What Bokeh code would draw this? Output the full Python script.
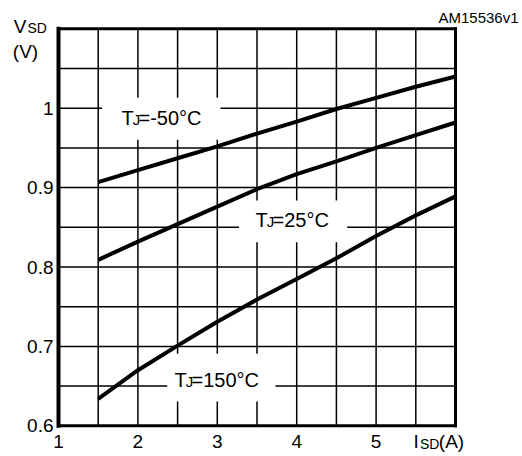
from bokeh.plotting import figure
from bokeh.models import Range1d
from bokeh.core.properties import value
from bokeh.embed import file_html
from bokeh.resources import INLINE

# ---- data ----
isd = [1.5, 2.0, 2.5, 3.0, 3.5, 4.0, 4.5, 5.0, 5.5, 6.0]
vsd_m50 = [0.907, 0.922, 0.937, 0.952, 0.968, 0.983, 0.999, 1.013, 1.027, 1.040]
vsd_25 = [0.809, 0.832, 0.854, 0.876, 0.898, 0.917, 0.933, 0.950, 0.966, 0.982]
vsd_150 = [0.634, 0.670, 0.701, 0.731, 0.759, 0.785, 0.811, 0.839, 0.865, 0.889]

x_ticks = [1, 2, 3, 4, 5]
x_tick_labels = ["1", "2", "3", "4", "5"]
y_ticks = [0.6, 0.7, 0.8, 0.9, 1.0]
y_tick_labels = ["0.6", "0.7", "0.8", "0.9", "1"]
x_grid = [1.5, 2.0, 2.5, 3.0, 3.5, 4.0, 4.5, 5.0, 5.5]
y_grid = [0.65, 0.7, 0.75, 0.8, 0.85, 0.9, 0.95, 1.0, 1.05]
series_names = ["=-50°C", "=25°C", "=150°C"]

# ---- layout: canvas pixels of the chart box ----
FONT = "Liberation Sans"
W, H = 522, 456
BOX_L, BOX_R, BOX_T, BOX_B = 58.0, 455.0, 28.3, 425.3
X0, X1, Y0, Y1 = 1.0, 6.0, 0.6, 1.1
SX = (BOX_R - BOX_L) / (X1 - X0)
SY = (BOX_B - BOX_T) / (Y1 - Y0)


def dx(px):
    return X0 + (px - BOX_L) / SX


def dy(py):
    return Y0 + (BOX_B - py) / SY


p = figure(width=W, height=H, min_border=0,
           x_range=Range1d(dx(0), dx(W)), y_range=Range1d(dy(H), dy(0)),
           output_backend="svg", toolbar_location=None)
p.axis.visible = False
p.grid.visible = False
p.outline_line_color = None
p.background_fill_color = "white"
p.border_fill_color = "white"

# grid lines
p.segment(x0=x_grid, x1=x_grid, y0=[Y0] * len(x_grid), y1=[Y1] * len(x_grid),
          line_color="black", line_width=1.5)
p.segment(x0=[X0] * len(y_grid), x1=[X1] * len(y_grid), y0=y_grid, y1=y_grid,
          line_color="black", line_width=1.5)

# white label backgrounds (pixel boxes)
boxes = [(101.7, 220.0, 97.3, 139.3), (238.5, 346.7, 200.0, 241.7), (166.7, 275.0, 353.3, 401.0)]
p.quad(left=[dx(b[0]) for b in boxes], right=[dx(b[1]) for b in boxes],
       top=[dy(b[2]) for b in boxes], bottom=[dy(b[3]) for b in boxes],
       fill_color="white", line_color=None)

# curves
for ys in (vsd_m50, vsd_25, vsd_150):
    p.line(isd, ys, line_width=4, line_color="black", line_join="round")

# chart frame
p.segment(x0=[X0, X0, X1], x1=[X1, X1, X1], y0=[Y1, Y0, Y0], y1=[Y1, Y0, Y1],
          line_color="black", line_width=3, line_cap="square")
p.segment(x0=[X0], x1=[X0], y0=[Y0], y1=[Y1], line_color="black", line_width=4,
          line_cap="square")


def txt(xs, ys, texts, size, align="left"):
    p.text(x=xs, y=ys, text=texts, text_font=value(FONT), text_font_size=value(f"{size}px"),
           text_color="black", text_align=align, text_baseline="middle")


def txt_b(px, base, text, size, align="left"):
    # place by baseline pixel (converted to the middle of the em box)
    txt([dx(px)], [dy(base - 0.35 * size)], [text], size, align)


# tick labels
txt([dx(BOX_L - 5)] * len(y_ticks), y_ticks, y_tick_labels, 19, align="right")
BOTTOM_BASE = 448.0
txt(x_ticks, [dy(BOTTOM_BASE - 0.35 * 19)] * len(x_ticks), x_tick_labels, 19, align="center")

# series labels
label_pos = [(121, 124), (255, 226.7), (174, 386)]
for (px, base), name in zip(label_pos, series_names):
    txt_b(px, base, "T", 20)
    txt_b(px + 11.2, base, "J", 15)
    txt_b(px + 17.0, base, name, 20)

# axis titles
txt_b(13.3, 32.3, "V", 19)
txt_b(27.0, 32.3, "SD", 14)
txt_b(12.3, 57.5, "(V)", 19)
txt_b(413, BOTTOM_BASE, "I", 19)
txt_b(419.5, BOTTOM_BASE, "SD", 14)
txt_b(438.3, BOTTOM_BASE, "(A)", 19)
txt_b(518, 22, "AM15536v1", 15, align="right")

open("out.html", "w").write(file_html(p, INLINE))
